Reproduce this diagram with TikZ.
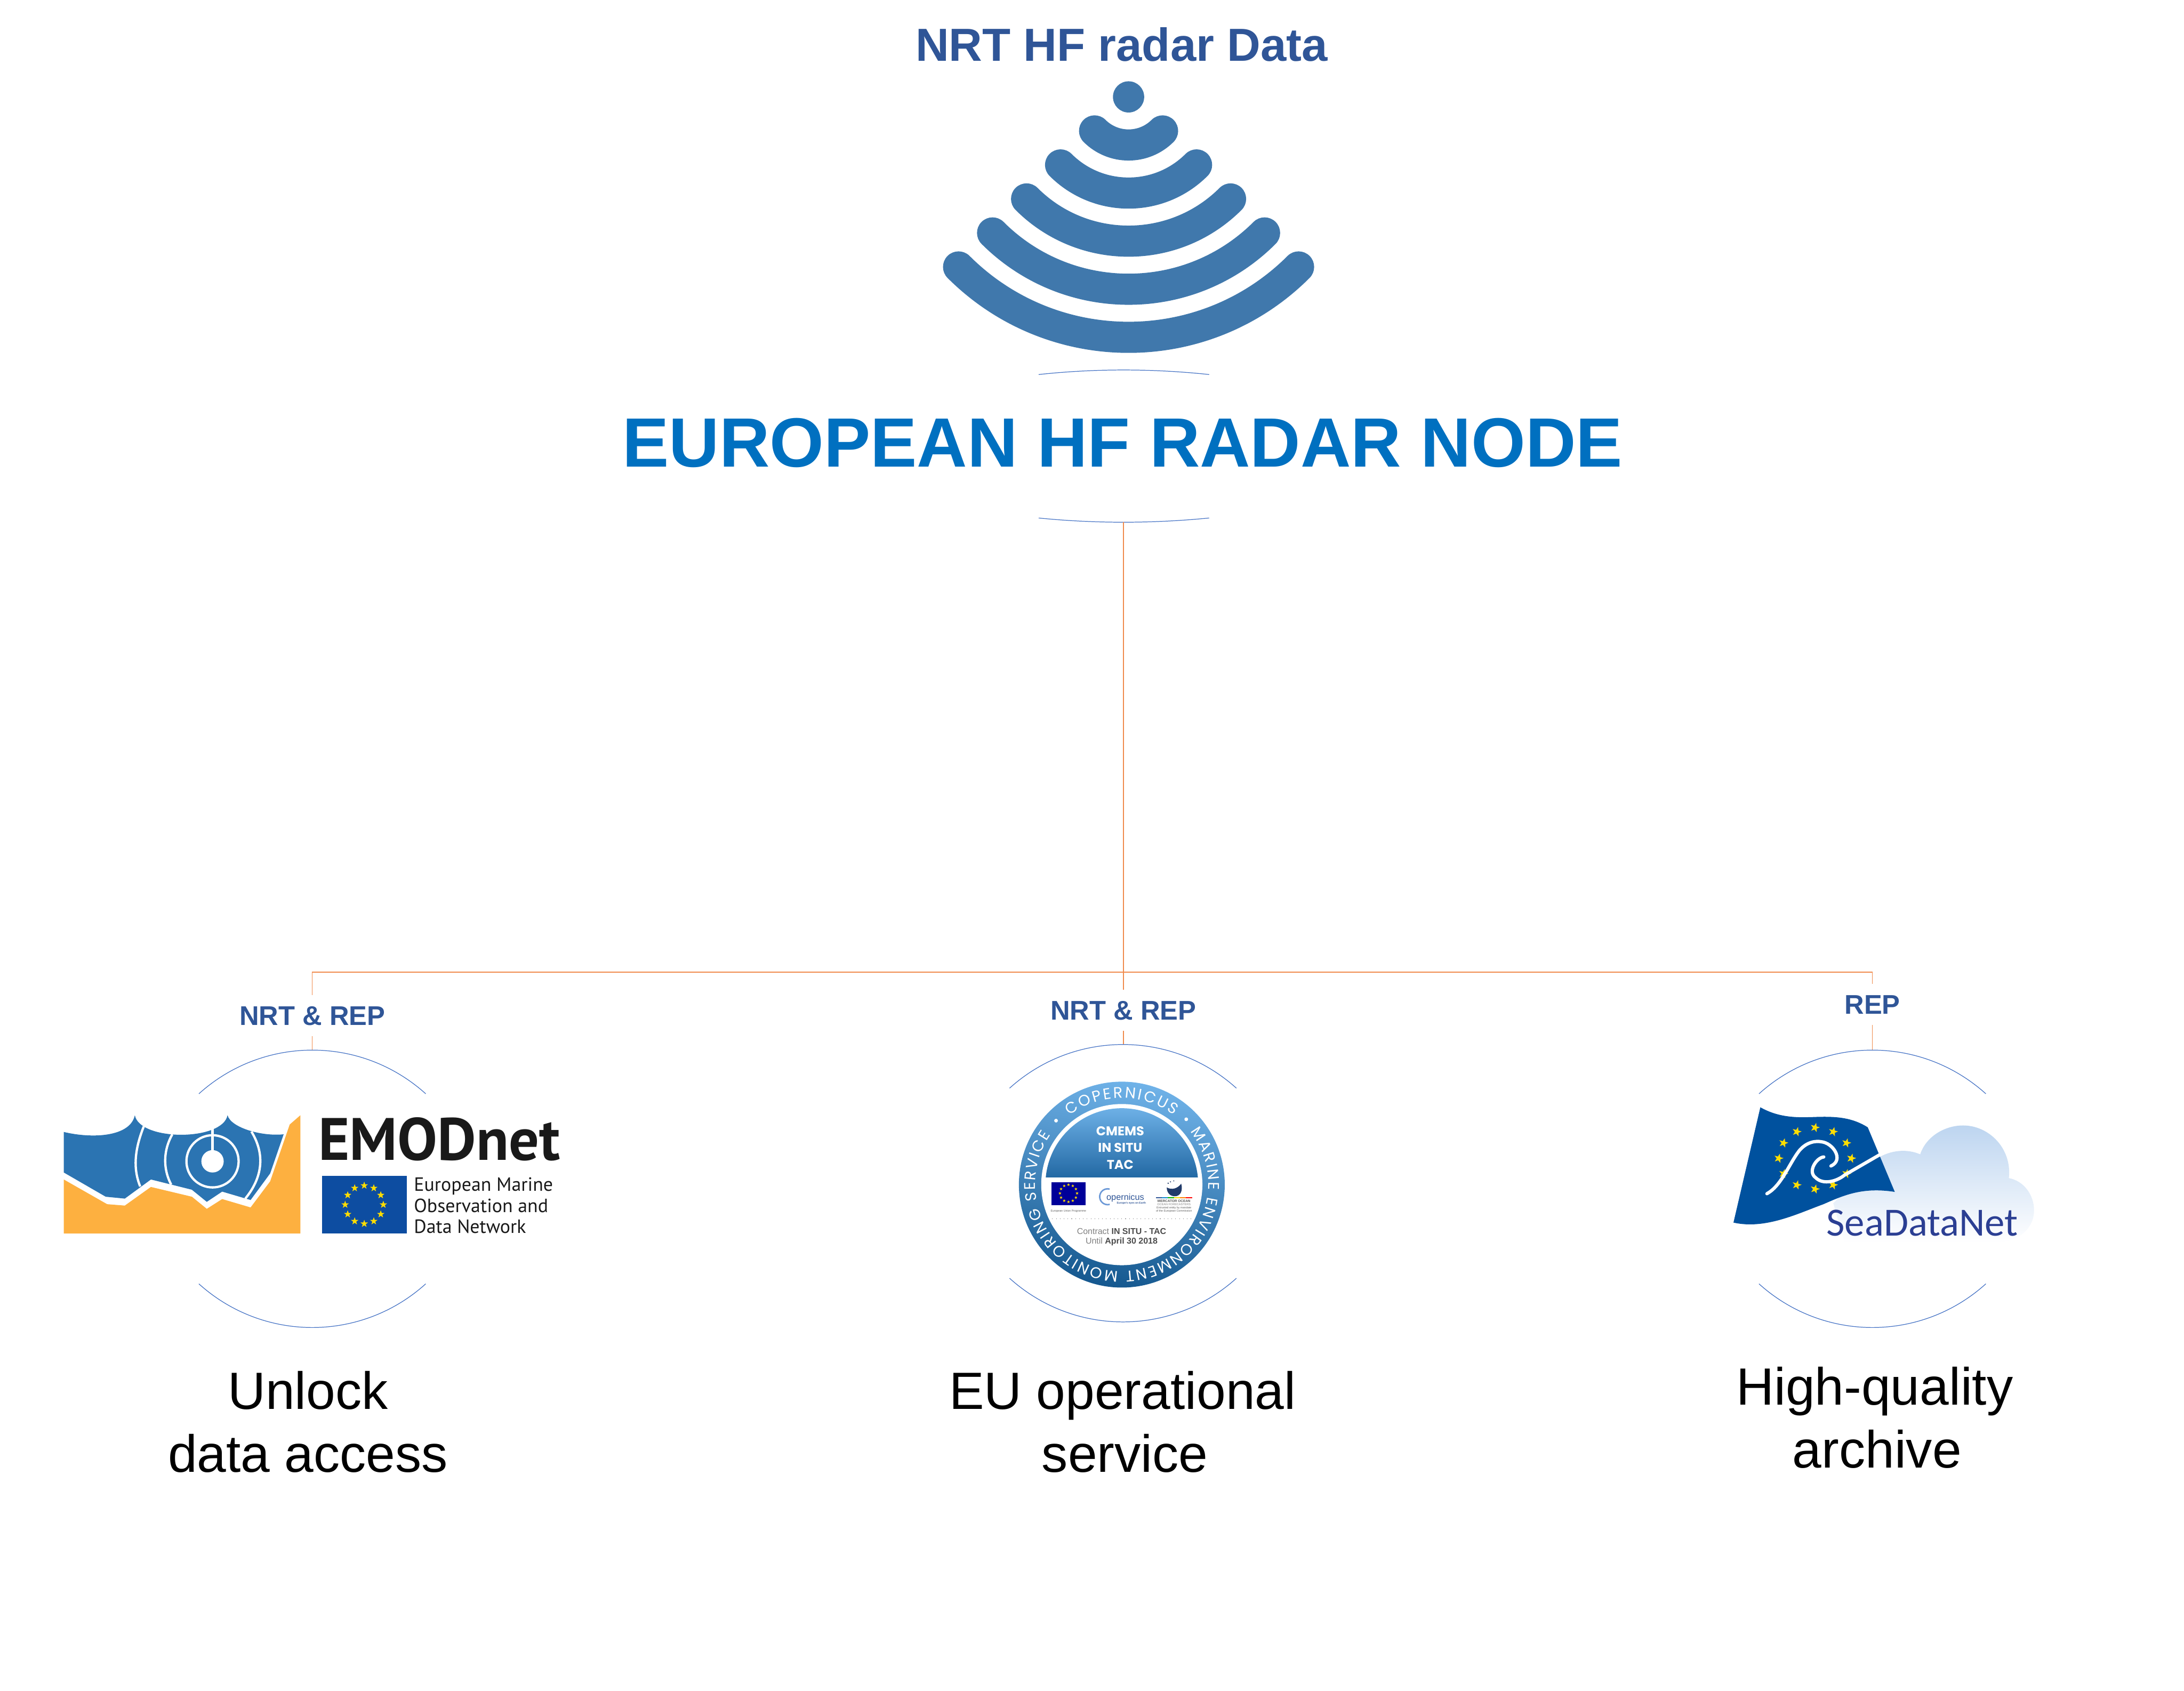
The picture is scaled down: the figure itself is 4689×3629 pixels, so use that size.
\documentclass[tikz,border=0pt]{standalone}
\usepackage{fontspec}
\setmainfont{Liberation Sans}
\newfontfamily\logofont{PT Sans}
\newfontfamily\sdnfont{Carlito}
\newfontfamily\badgefont{Poppins}
\usetikzlibrary{shapes.geometric,decorations.text}
\definecolor{headblue}{HTML}{2F5597}
\definecolor{titleblue}{HTML}{0070C0}
\definecolor{radarblue}{HTML}{4078AC}
\definecolor{ringblue}{HTML}{4472C4}
\definecolor{linkorange}{HTML}{F08A4B}
\definecolor{seablue}{HTML}{2B74B2}
\definecolor{sandorange}{HTML}{FDB040}
\definecolor{euroblue}{HTML}{0D4DA1}
\definecolor{sdnblue}{HTML}{00519E}
\definecolor{sdntext}{HTML}{2B3F93}
\definecolor{cloudblue}{HTML}{BDD5F0}
\definecolor{badgelight}{HTML}{6FB2E8}
\definecolor{badgedark}{HTML}{15588F}
\definecolor{badgemid}{HTML}{2369A4}
\definecolor{staryellow}{HTML}{FFDD00}

\begin{document}
\begin{tikzpicture}[
      x=0.01cm, y=-0.01cm,
      ring/.style={draw=ringblue, line width=0.4pt},
      link/.style={draw=linkorange, line width=0.5pt},
      head/.style={font=\fontsize{28.3}{34}\selectfont\bfseries, text=headblue, inner sep=0},
      title/.style={font=\fontsize{42.6}{50}\selectfont\bfseries, text=titleblue, inner sep=0},
      tag/.style={font=\fontsize{16.5}{20}\selectfont\bfseries, text=headblue, inner sep=0, minimum height=0.87cm},
      role/.style={font=\fontsize{32}{38.3}\selectfont, align=center, inner sep=0},
      wave/.style={draw=radarblue, line width=19pt, line cap=round},
      crest/.style={draw=white, line width=1.4pt},
      eustar/.style={star, star points=5, star point ratio=2.5, fill=staryellow, inner sep=0, minimum size=0.17cm},
      tinytext/.style={font=\fontsize{1.7}{2}\selectfont, text=black!65, inner sep=0}
    ]
    \useasboundingbox (0,0) rectangle (4689,3629);

    % radar mark
    \fill[radarblue] (2423,208) circle[radius=33.5];
    \foreach \k in {1,...,5}
      \draw[wave] (2423-73*\k,208+73*\k) .. controls (2423-32.7*\k,208+113.3*\k) and (2423+32.7*\k,208+113.3*\k) .. (2423+73*\k,208+73*\k);

    % headings
    \node[head]  (datahead) at (2408,95)  {NRT HF radar Data};
    \node[title] (nodetitle) at (2410,951) {EUROPEAN HF RADAR NODE};
    \draw[ring] (2230,804) .. controls (2350,791) and (2474,791) .. (2596,804);
    \draw[ring] (2230,1112) .. controls (2350,1124) and (2474,1124) .. (2596,1112);

    % tree of connectors
    \coordinate (nodelow) at (2412,1121);
    \coordinate (hub)     at (2412,2087);
    \node[tag] (emodtag) at (670.5,2180.5) {NRT \& REP};
    \node[tag] (cmemstag) at (2412,2169)   {NRT \& REP};
    \node[tag] (sdntag)  at (4020,2156.5)  {REP};
    \coordinate (emodtop)  at (670.5,2254);
    \coordinate (cmemstop) at (2412,2242);
    \coordinate (sdntop)   at (4020,2254);

    \draw[link] (nodelow) -- (hub);
    \draw[link] (hub) -| (emodtag);
    \draw[link] (hub) -| (sdntag);
    \draw[link] (hub) -- (cmemstag);
    \draw[link] (emodtag) -- (emodtop);
    \draw[link] (cmemstag) -- (cmemstop);
    \draw[link] (sdntag) -- (sdntop);

    % rings round the logos
    \foreach \cx/\tp/\bt in {670.5/2254/2850, 2411/2242/2838, 4020/2254/2850} {
      \draw[ring] (\cx-243.5,\tp+94) .. controls (\cx-105,\tp-31) and (\cx+105,\tp-31) .. (\cx+243.5,\tp+94);
      \draw[ring] (\cx-243.5,\bt-94) .. controls (\cx-105,\bt+31) and (\cx+105,\bt+31) .. (\cx+243.5,\bt-94);
    }

    % EMODnet logo
    \fill[sandorange] (137,2532) -- (230,2585) -- (268,2588) -- (324,2548) -- (412,2569) -- (444,2595) -- (477,2574) -- (538,2592) -- (580,2536) -- (622,2414) -- (645,2394) -- (645,2648) -- (137,2648) -- cycle;
    \fill[seablue] (137,2430) .. controls (200,2445) and (280,2440) .. (289.5,2394) .. controls (300,2450) and (478,2450) .. (488.5,2394) .. controls (495,2420) and (560,2440) .. (609,2435) -- (580,2519) -- (538,2576) -- (477,2558) -- (444,2580) -- (412,2554) -- (324,2532) -- (268,2573) -- (227,2569) -- (137,2517) -- cycle;
    \draw[crest] (308.7,2418) .. controls (288,2470) and (286,2510) .. (301,2547);
    \draw[crest] (370,2435) .. controls (350,2470) and (350,2510) .. (367.6,2543);
    \draw[crest] (539.7,2429) .. controls (568,2475) and (566,2525) .. (526.7,2573);
    \draw[crest] (456.3,2493) circle[radius=56];
    \draw[crest] (456.3,2424) -- (456.3,2470);
    \fill[white] (456.3,2493) circle[radius=24];
    \node[font=\logofont\fontsize{36.5}{40}\selectfont\bfseries, text=black!90, inner sep=0] (emodname) at (943,2446) {EMODnet};
    \fill[euroblue] (692,2524) rectangle (873,2648);
    \foreach \i in {1,...,12}
      \node[eustar] (emodstar\i) at ({782+41*cos(30*\i)},{2586+41*sin(30*\i)}) {};
    \node[anchor=west, align=left, inner sep=0, text=black!90, font=\logofont\fontsize{11.7}{12.8}\selectfont] (emodsub) at (888,2588) {European Marine\\Observation and\\Data Network};

    % CMEMS badge
    \shade[top color=badgelight, bottom color=badgedark, shading angle=-10] (2408.5,2543) circle[radius=221];
    \fill[white] (2408.5,2543) circle[radius=173];
    \begin{scope}
      \clip (2408.5,2543) circle[radius=164];
      \shade[top color=badgelight, bottom color=badgemid] (2240,2375) rectangle (2580,2527);
    \end{scope}
    \node[font=\badgefont\fontsize{7.8}{10.2}\selectfont\bfseries, text=white, align=center, inner sep=0] (cmemsname) at (2405,2464) {CMEMS\\IN SITU\\TAC};
    \path[decorate, decoration={text along path, text align=fit to path, text={|\badgefont\fontsize{9.4}{10}\selectfont\color{white}|COPERNICUS}}]
      ({2408.5+186*cos(-127)},{2543+186*sin(-127)}) arc[start angle=-127, end angle=-53, radius=186];
    \path[decorate, decoration={text along path, text align=fit to path, text={|\badgefont\fontsize{9.4}{10}\selectfont\color{white}|MARINE ENVIRONMENT MONITORING SERVICE}}]
      ({2408.5+186*cos(-38)},{2543+186*sin(-38)}) arc[start angle=-38, end angle=215, radius=186];
    \fill[white] ({2408.5+197*cos(-45.4)},{2543+197*sin(-45.4)}) circle[radius=4];
    \fill[white] ({2408.5+197*cos(-135.8)},{2543+197*sin(-135.8)}) circle[radius=4];
    \fill[blue!60!black] (2257,2538) rectangle (2331,2587);
    \foreach \i in {1,...,12}
      \node[eustar, minimum size=0.07cm] (cmemsstar\i) at ({2294+18.4*cos(30*\i)},{2561.6+18.4*sin(30*\i)}) {};
    \node[tinytext] (eulabel) at (2294,2600) {European Union Programme};
    \draw[line width=0.9pt, draw=cyan!50!blue!60] ({2378+17*cos(75)},{2569+17*sin(75)}) arc[start angle=75, end angle=285, radius=17];
    \node[font=\fontsize{5.3}{6}\selectfont, text=headblue, inner sep=0] (copname) at (2416,2572) {opernicus};
    \node[tinytext, font=\fontsize{1.6}{2}\selectfont\bfseries, text=headblue] (coplabel) at (2429,2583) {Europe's eyes on Earth};
    \fill[headblue!70!black] (2505,2549) .. controls (2515,2555) and (2528,2552) .. (2536,2541) .. controls (2540,2555) and (2535,2568) .. (2522,2568) .. controls (2512,2568) and (2505,2560) .. (2505,2549);
    \fill[headblue!70!black] (2508,2540) circle[radius=1.6] (2513,2537) circle[radius=1.4] (2520,2535) circle[radius=1.2];
    \foreach \c [count=\i] in {headblue,cyan!70!blue,green!70!black,yellow!80!orange,orange,red}
      \fill[\c] (2481.7+12.93*\i-12.93,2570.5) rectangle (2481.7+12.93*\i,2572.5);
    \node[tinytext, font=\fontsize{2.1}{2.4}\selectfont\bfseries] (mercname) at (2520.5,2578) {MERCATOR OCEAN};
    \node[tinytext, font=\fontsize{1.8}{2}\selectfont, text=black!50] (mercsub) at (2520.5,2586) {OCEAN FORECASTERS};
    \node[tinytext] (mercnote) at (2520.5,2593) {Entrusted entity by mandate};
    \node[tinytext] (mercnote2) at (2520.5,2600) {of the European Commission};
    \draw[black!60, line width=0.35pt, dotted] (2259,2616) -- (2559,2616);
    \node[font=\fontsize{5.2}{6}\selectfont, text=black!50, inner sep=0] (contract) at (2408,2643) {Contract \textcolor{black!70}{\textbf{IN SITU - TAC}}};
    \node[font=\fontsize{5.2}{6}\selectfont, text=black!50, inner sep=0] (until) at (2408,2665) {Until \textcolor{black!70}{\textbf{April 30 2018}}};

    % SeaDataNet logo
    \shade[top color=cloudblue, bottom color=white] (4030,2487) .. controls (4060,2468) and (4095,2466) .. (4122.6,2478) .. controls (4135,2440) and (4175,2416) .. (4214.7,2416) .. controls (4270,2416) and (4320,2465) .. (4313,2529) .. controls (4345,2535) and (4367,2565) .. (4367,2598) .. controls (4367,2640) and (4330,2668) .. (4280,2668) -- (3960,2668) -- (3936,2583) -- cycle;
    \fill[sdnblue] (3779.4,2377) .. controls (3820,2400) and (3860,2399) .. (3892,2398) .. controls (3940,2396) and (3975,2398) .. (4010,2420) -- (4068,2558.6) .. controls (4000,2548) and (3960,2565) .. (3915,2585) .. controls (3860,2605) and (3790,2640) .. (3721.7,2624.5) -- cycle;
    \foreach \i in {1,...,12}
      \node[eustar, minimum size=0.21cm, rotate=-15] (sdnstar\i) at ({3896.7+78*cos(30*\i)},{2486.6+66*sin(30*\i)}) {};
    \draw[white, line width=2pt, line cap=round] (3793.5,2562.5) .. controls (3825,2545) and (3840,2500) .. (3863,2470) .. controls (3880,2450) and (3900,2449) .. (3910,2451) .. controls (3935,2453) and (3960,2490) .. (3931,2503);
    \draw[white, line width=2pt, line cap=round] (3915.6,2483.6) .. controls (3900,2485) and (3880,2515) .. (3898,2528) .. controls (3915,2545) and (3945,2535) .. (3960,2522.6) -- (4035.4,2479);
    \node[font=\sdnfont\fontsize{24.4}{27}\selectfont, text=sdntext, inner sep=0] (sdnname) at (4127,2625) {SeaDataNet};

    % what each partner stands for
    \node[role] (emodrole)  at (661,3052)  {Unlock\\data access};
    \node[role] (cmemsrole) at (2410,3052) {EU operational\\\hspace*{0.1cm}service};
    \node[role] (sdnrole)   at (4025,3043) {High-quality\\\hspace*{0.1cm}archive};
  \end{tikzpicture}
\end{document}
